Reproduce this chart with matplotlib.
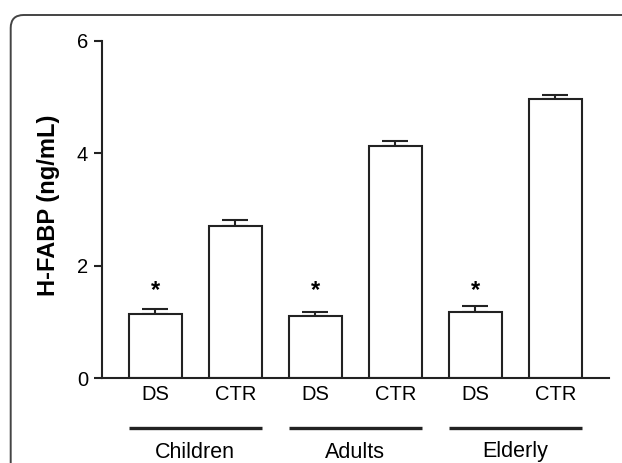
import numpy as np
import matplotlib
matplotlib.use("Agg")
import matplotlib.pyplot as plt
from matplotlib.patches import FancyBboxPatch

plt.rcParams['font.family'] = ['Liberation Sans', 'DejaVu Sans']

groups = ['Children', 'Adults', 'Elderly']
subgroups = ['DS', 'CTR']
ds_mean = [1.14, 1.11, 1.18]
ds_sem = [0.10, 0.07, 0.10]
ctr_mean = [2.71, 4.13, 4.97]
ctr_sem = [0.11, 0.08, 0.07]
star_y = 1.45  # asterisk baseline (DS vs CTR significant)

W, H = 622, 463
fig = plt.figure(figsize=(W / 100, H / 100), dpi=100)

# rounded frame around the panel (runs off the right / bottom edges)
frame = FancyBboxPatch((0.107, -1.0), 7.0, 4.48 + 1.0,
                       boxstyle="round,pad=0,rounding_size=0.13",
                       transform=fig.dpi_scale_trans, fill=False,
                       edgecolor='#444444', linewidth=1.4)
fig.patches.append(frame)

ax = fig.add_axes([102 / W, (H - 378.3) / H, (609 - 102) / W, (378.3 - 40.7) / H])

means, sems, labels = [], [], []
for i in range(len(groups)):
    means += [ds_mean[i], ctr_mean[i]]
    sems += [ds_sem[i], ctr_sem[i]]
    labels += subgroups
x = np.arange(len(means))

ax.bar(x, means, width=0.667, color='white', edgecolor='#222222', linewidth=1.5, zorder=2)
ax.errorbar(x, means, yerr=[np.zeros(len(sems)), sems], fmt='none',
            ecolor='#222222', elinewidth=1.5, capsize=9.7, capthick=1.5, zorder=1)

for i in range(len(groups)):
    ax.text(2 * i, star_y, '*', ha='center', va='baseline', fontsize=17, fontweight='bold')

ax.set_xlim(-0.665, 5.67)
ax.set_ylim(0, 6)
ax.set_yticks([0, 2, 4, 6])
ax.set_xticks(x)
ax.set_xticklabels(labels)

for s in ['top', 'right']:
    ax.spines[s].set_visible(False)
for s in ['left', 'bottom']:
    ax.spines[s].set_linewidth(1.5)
    ax.spines[s].set_color('#222222')
ax.tick_params(axis='y', length=6, width=1.5, color='#222222', pad=4, labelsize=14.5)
ax.tick_params(axis='x', length=0, pad=5, labelsize=14.5)

# group underlines and names
trans = ax.get_xaxis_transform()
label_y = (378.3 - 457.5) / (378.3 - 40.7)
for i, g in enumerate(groups):
    ax.plot([2 * i - 0.333, 2 * i + 1 + 0.333], [-0.146, -0.146], color='#222222',
            linewidth=2.4, transform=trans, clip_on=False, solid_capstyle='butt')
    ax.text(2 * i + 0.5, -label_y * -1, g, transform=trans, ha='center', va='baseline', fontsize=15.5)

fig.text(48.5 / W, 1 - 205 / H, 'H-FABP (ng/mL)', rotation=90, ha='center', va='center',
         fontsize=17, fontweight='bold')

fig.savefig('out.png', dpi=100, facecolor='white')
